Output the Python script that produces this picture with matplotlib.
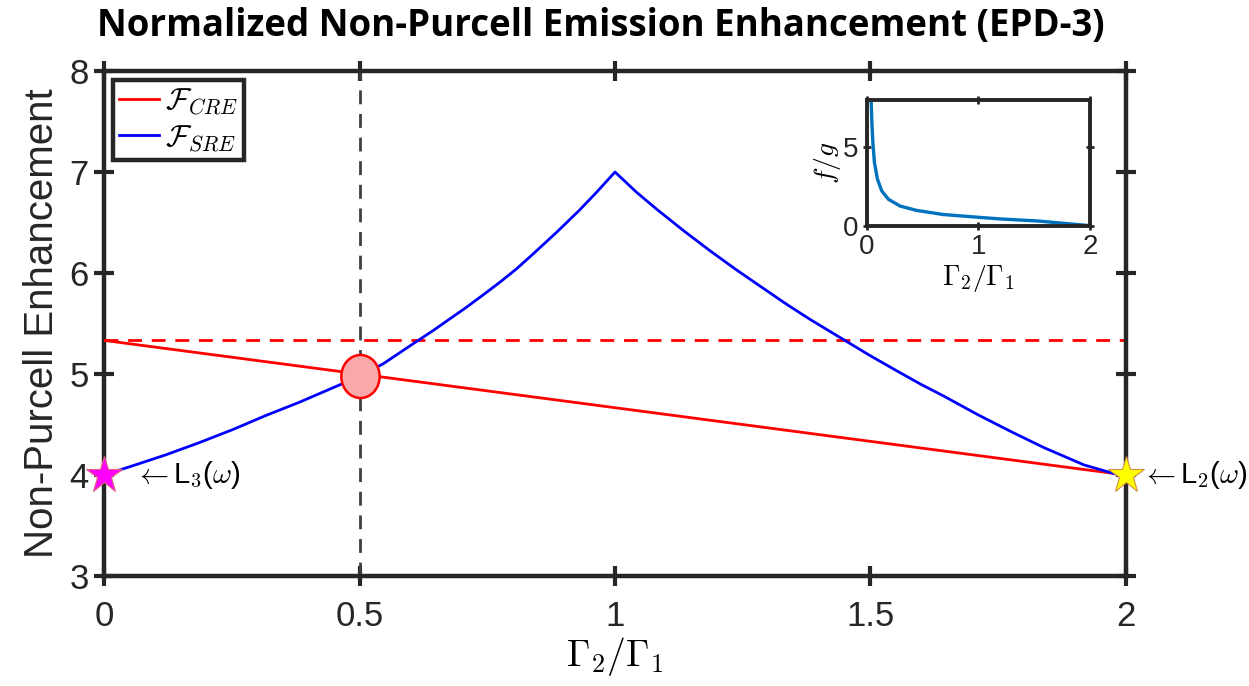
import numpy as np
import matplotlib
matplotlib.use("Agg")
import matplotlib.pyplot as plt
from matplotlib.path import Path
from matplotlib.transforms import Affine2D

# ratio axis
ratio_cre = [0.0, 2.0]
cre_vals = [5.333, 4.0]
cre_ref = 5.333

ratio_sre = [0.0, 0.055, 0.121, 0.186, 0.252, 0.317, 0.382, 0.46, 0.5, 0.546, 0.605,
             0.644, 0.709, 0.741, 0.775, 0.807, 0.84, 0.885, 0.93, 0.964, 1.0,
             1.042, 1.082, 1.134, 1.186, 1.238, 1.284, 1.336, 1.382, 1.454, 1.5,
             1.552, 1.598, 1.644, 1.709, 1.775, 1.84, 1.918, 2.0]
sre_vals = [4.0, 4.09, 4.20, 4.32, 4.45, 4.59, 4.72, 4.89, 4.98, 5.10, 5.30,
            5.43, 5.66, 5.78, 5.91, 6.04, 6.19, 6.40, 6.62, 6.80, 7.0,
            6.80, 6.63, 6.42, 6.22, 6.03, 5.87, 5.69, 5.54, 5.32, 5.18,
            5.03, 4.90, 4.78, 4.60, 4.43, 4.27, 4.10, 3.98]

# inset f/g
ratio_fg = [0.035, 0.039, 0.045, 0.054, 0.068, 0.095, 0.134, 0.194, 0.298, 0.448,
            0.686, 0.955, 1.194, 1.53, 1.75, 2.0]
fg_vals = [8.2, 7.95, 6.62, 5.33, 4.04, 2.97, 2.21, 1.68, 1.25, 0.97,
           0.71, 0.56, 0.43, 0.3, 0.16, 0.0]

cross_pt = (0.5, 4.98)
l3_pt = (0.0, 4.0)
l2_pt = (2.0, 4.0)

plt.rcParams['font.family'] = ['Liberation Sans Narrow', 'Liberation Sans', 'DejaVu Sans']
plt.rcParams['mathtext.fontset'] = 'cm'

dark = '#262626'

fig = plt.figure(figsize=(12.49, 6.86), dpi=100)
ax = fig.add_axes([0.0833, 0.1603, 0.8182, 0.7362])

ax.plot(ratio_cre, cre_vals, color='r', lw=2, label=r'$\mathcal{F}_{CRE}$', zorder=3)
ax.plot(ratio_sre, sre_vals, color='b', lw=2, label=r'$\mathcal{F}_{SRE}$', zorder=3)
ax.axhline(cre_ref, color='r', lw=2, ls=(0, (5, 3.5)), zorder=2)
ax.axvline(0.5, color='#404040', lw=2, ls=(0, (5, 3.5)), zorder=2)

# slightly squeezed circle like the original
ell = Path.unit_circle().transformed(Affine2D().scale(0.89, 1.0))
ax.plot(*cross_pt, marker=ell, ms=31, mfc='#f9a9a9', mec='r', mew=1.8, zorder=5,
        clip_on=False)
ax.plot(*l3_pt, marker='*', ms=28, mfc='#ff00ff', mec='#e06080', mew=0.8, zorder=6,
        clip_on=False)
ax.plot(*l2_pt, marker='*', ms=28, mfc='#ffff00', mec='#d09040', mew=0.8, zorder=6,
        clip_on=False)

ax.annotate(r'$\leftarrow$L$_3$($\omega$)', xy=l3_pt, xytext=(30, 0),
            textcoords='offset pixels', va='center', ha='left', fontsize=21,
            color='black', family=['Liberation Sans', 'DejaVu Sans'])
ax.annotate(r'$\leftarrow$L$_2$($\omega$)', xy=l2_pt, xytext=(15, 0),
            textcoords='offset pixels', va='center', ha='left', fontsize=21,
            color='black', family=['Liberation Sans', 'DejaVu Sans'],
            annotation_clip=False)

ax.set_xlim(0, 2)
ax.set_ylim(3, 8)
ax.set_xticks([0, 0.5, 1, 1.5, 2])
ax.set_xticklabels(['0', '0.5', '1', '1.5', '2'])
ax.set_yticks([3, 4, 5, 6, 7, 8])
ax.tick_params(direction='inout', length=14, width=3, color=dark, labelsize=25,
               top=True, right=True, pad=4, labelcolor=dark)
ax.tick_params(axis='x', pad=10)
for s in ax.spines.values():
    s.set_linewidth(3.2)
    s.set_color(dark)

ax.set_xlabel(r'$\Gamma_2/\Gamma_1$', fontsize=27, labelpad=2)
ax.set_ylabel('Non-Purcell Enhancement', fontsize=29, color=dark, labelpad=6,
              family=['Liberation Sans', 'DejaVu Sans'])
fig.suptitle('Normalized Non-Purcell Emission Enhancement (EPD-3)', x=0.481, y=0.99,
             fontsize=26.4, fontweight='bold', va='top', family=['Open Sans', 'DejaVu Sans'])

leg = ax.legend(loc='upper left', fontsize=22, handlelength=1.3, handletextpad=0.2,
                borderpad=0.2, labelspacing=0.2, borderaxespad=0.3, fancybox=False,
                framealpha=1)
leg.get_frame().set_edgecolor(dark)
leg.get_frame().set_linewidth(3.2)

# inset
axin = fig.add_axes([0.694, 0.671, 0.1788, 0.1832])
axin.plot(ratio_fg, fg_vals, color='#0072BD', lw=2.4, clip_on=True)
axin.set_xlim(0, 2)
axin.set_ylim(0, 8)
axin.set_xticks([0, 1, 2])
axin.set_yticks([0, 5])
axin.tick_params(direction='inout', length=6, width=2, color=dark, labelsize=20,
                 top=True, right=True, pad=3, labelcolor=dark)
for s in axin.spines.values():
    s.set_linewidth(2.8)
    s.set_color(dark)
axin.set_xlabel(r'$\Gamma_2/\Gamma_1$', fontsize=20, labelpad=2)
axin.set_ylabel(r'$f/g$', fontsize=20, labelpad=0)

fig.savefig('out.png', dpi=100)
